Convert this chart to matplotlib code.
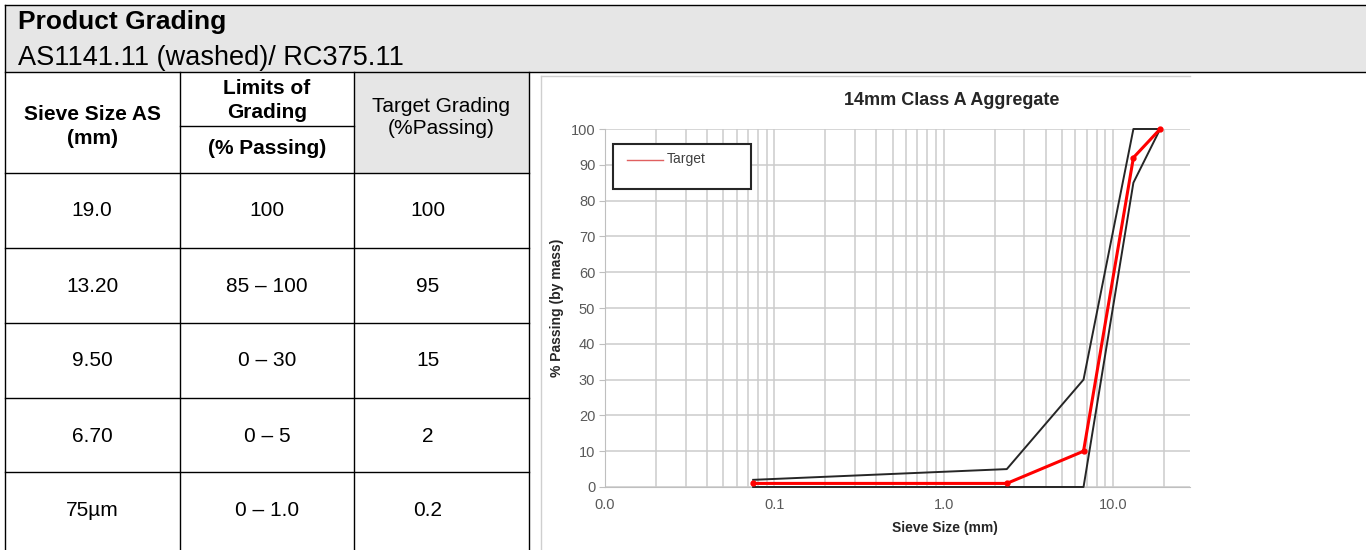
import matplotlib
matplotlib.use("Agg")
import matplotlib.pyplot as plt
from matplotlib.patches import Rectangle
from matplotlib.ticker import LogLocator, NullFormatter

plt.rcParams['font.family'] = ['Liberation Sans', 'DejaVu Sans']

# table contents
sieve_sizes = ["19.0", "13.20", "9.50", "6.70", "75µm"]
limits = ["100", "85 – 100", "0 – 30", "0 – 5", "0 – 1.0"]
target_grading = ["100", "95", "15", "2", "0.2"]

# grading curve
chart_sieve = [0.075, 2.36, 6.7, 13.2, 19.0]
upper_limit = [2, 5, 30, 100, 100]
lower_limit = [0, 0, 0, 85, 100]
target = [1, 1, 10, 92, 100]

x_ticks = [0.01, 0.1, 1, 10]
x_tick_labels = ["0.0", "0.1", "1.0", "10.0"]
y_ticks = list(range(0, 101, 10))

W, H = 1366, 550
fig = plt.figure(figsize=(W / 100, H / 100), dpi=100)

# page layer in pixel coordinates
page = fig.add_axes([0, 0, 1, 1])
page.set_xlim(0, W)
page.set_ylim(H, 0)
page.axis('off')

grey = '#e6e6e6'
lw_table = 1.0
page.add_patch(Rectangle((5, 5), W - 5, 67, fc=grey, ec='none'))
page.add_patch(Rectangle((354, 72), 175, 101, fc=grey, ec='none'))

page.plot([5, W], [5, 5], color='black', lw=lw_table)
page.plot([5, W], [72, 72], color='black', lw=lw_table)
for x in [5, 180, 354, 529]:
    top = 5 if x == 5 else 72
    page.plot([x, x], [top, H], color='black', lw=lw_table)
page.plot([180, 354], [126, 126], color='black', lw=lw_table)
row_lines = [173, 248, 323, 398, 472]
for y in row_lines:
    page.plot([5, 529], [y, y], color='black', lw=lw_table)

page.text(18, 22, "Product Grading", fontsize=19, fontweight='bold', va='center', ha='left')
page.text(18, 58, "AS1141.11 (washed)/ RC375.11", fontsize=19.5, va='center', ha='left')

page.text(92, 114, "Sieve Size AS", fontsize=15, fontweight='bold', ha='center', va='center')
page.text(92, 138, "(mm)", fontsize=15, fontweight='bold', ha='center', va='center')
page.text(267, 89, "Limits of", fontsize=15, fontweight='bold', ha='center', va='center')
page.text(267, 113, "Grading", fontsize=15, fontweight='bold', ha='center', va='center')
page.text(267, 148, "(% Passing)", fontsize=15, fontweight='bold', ha='center', va='center')
page.text(441, 107, "Target Grading", fontsize=15, ha='center', va='center')
page.text(441, 129, "(%Passing)", fontsize=15, ha='center', va='center')

for i in range(len(sieve_sizes)):
    yc = row_lines[i] + 38
    page.text(92, yc, sieve_sizes[i], fontsize=15, ha='center', va='center')
    page.text(267, yc, limits[i], fontsize=15, ha='center', va='center')
    page.text(428, yc, target_grading[i], fontsize=15, ha='center', va='center')

# chart image frame (only left and top edges show)
page.plot([541, 541], [76, H], color='#cfcfcf', lw=1.0)
page.plot([541, 1190], [76, 76], color='#cfcfcf', lw=1.0)

# chart
x0, x1, y_top, y_bot = 605, 1190, 129, 487
ax = fig.add_axes([x0 / W, (H - y_bot) / H, (x1 - x0) / W, (y_bot - y_top) / H])
ax.set_facecolor('none')
ax.set_xscale('log')
ax.set_xlim(0.01, 28.5)
ax.set_ylim(0, 100)
ax.set_xticks(x_ticks)
ax.set_xticklabels(x_tick_labels)
ax.xaxis.set_minor_locator(LogLocator(base=10, subs=range(2, 10)))
ax.xaxis.set_minor_formatter(NullFormatter())
ax.set_yticks(y_ticks)

gc = '#cccccc'
ax.grid(axis='x', which='both', color=gc, lw=1.1)
ax.grid(axis='y', which='major', color=gc, lw=1.1)
ax.set_axisbelow(True)

ax.tick_params(axis='x', which='both', length=0, pad=8, labelsize=10.5, labelcolor='#595959')
ax.tick_params(axis='y', length=4, color='#bfbfbf', pad=3, labelsize=10.5, labelcolor='#595959')
for s in ['top', 'right']:
    ax.spines[s].set_visible(False)
for s in ['left', 'bottom']:
    ax.spines[s].set_color('#bfbfbf')

ax.plot(chart_sieve, upper_limit, color='#262626', lw=1.4, zorder=3, clip_on=False)
ax.plot(chart_sieve, lower_limit, color='#262626', lw=1.4, zorder=3, clip_on=False)
ax.plot(chart_sieve, target, color='#ff0000', lw=2.2, marker='o', markersize=3.5, zorder=4, clip_on=False)

ax.text(0.593, 1.081, "14mm Class A Aggregate", transform=ax.transAxes, ha='center', va='center',
        fontsize=13, fontweight='bold', color='#262626')
ax.set_xlabel("Sieve Size (mm)", fontsize=10, fontweight='bold', color='#262626')
ax.xaxis.set_label_coords(0.581, -0.095)
ax.set_ylabel("% Passing (by mass)", fontsize=10, fontweight='bold', color='#262626')
ax.yaxis.set_label_coords(-0.07, 0.5)

# legend box drawn by hand (box is taller than its single entry)
ax.add_patch(Rectangle((0.0137, 0.832), 0.236, 0.126, transform=ax.transAxes,
                       fc='white', ec='#262626', lw=1.5, zorder=5))
ax.plot([0.0376, 0.0991], [0.913, 0.913], transform=ax.transAxes, color='#e06060', lw=1.0, zorder=6)
ax.text(0.106, 0.916, "Target", transform=ax.transAxes, fontsize=10, color='#404040',
        va='center', ha='left', zorder=6)

fig.savefig("out.png", dpi=100)
